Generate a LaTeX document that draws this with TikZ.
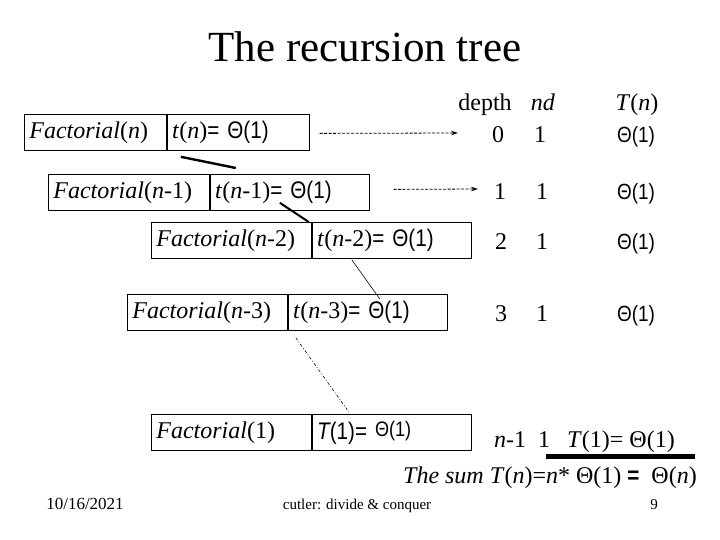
\documentclass[tikz,border=0pt]{standalone}
\usepackage{fontspec}
\setmainfont{Liberation Serif}
\newfontfamily\arial[FakeStretch=0.86]{Liberation Sans}
\usetikzlibrary{calc,arrows.meta}
\begin{document}
\begin{tikzpicture}[x=1pt,y=-1pt,
  cell/.style={draw,line width=0.8pt,inner xsep=5pt,inner ysep=0pt,minimum height=36pt,
    anchor=north west,align=left,font=\fontsize{24}{28}\selectfont},
  lbl/.style={font=\fontsize{24}{28}\selectfont,inner sep=0pt,anchor=base},
  thc/.style={lbl,font=\arial\fontsize{22}{26}\selectfont},
  foot/.style={font=\fontsize{15}{18}\selectfont,inner sep=0pt,anchor=base},
  darr/.style={-{Stealth[length=7pt,width=4.5pt]},dash pattern=on 3pt off 1.5pt,line width=0.8pt}]
\useasboundingbox (0,0) rectangle (720,540);
\node[font=\fontsize{43}{48}\selectfont,inner sep=0pt,anchor=base] (title) at (365,62) {The recursion tree};
% boxes
\node[cell,text width=132pt] (f0) at (24,114) {\textit{Factorial}(\textit{n})};
\node[cell,text width=132pt] (t0) at (f0.north east) {\textit{t}(\textit{n}){\arial= Θ(1)}};
\node[cell,text width=151pt] (f1) at (48,174) {\textit{Factorial}(\textit{n}-1)};
\node[cell,text width=149pt] (t1) at (f1.north east) {\textit{t}(\textit{n}-1){\arial= Θ(1)}};
\node[cell,text width=150pt] (f2) at (151,222) {\textit{Factorial}(\textit{n}-2)};
\node[cell,text width=149pt] (t2) at (f2.north east) {\textit{t}(\textit{n}-2){\arial= Θ(1)}};
\node[cell,text width=150pt] (f3) at (127,294) {\textit{Factorial}(\textit{n}-3)};
\node[cell,text width=149pt] (t3) at (f3.north east) {\textit{t}(\textit{n}-3){\arial= Θ(1)}};
\node[cell,text width=150pt] (f4) at (151,414) {\textit{Factorial}(1)};
\node[cell,text width=149pt] (t4) at (f4.north east) {{\arial\itshape T}{\arial(1)= \raisebox{3pt}{\fontsize{21}{24}\selectfont Θ(1)}}};
% tree links
\draw[line width=2.4pt] ($(f0.south east)+(14,6)$) -- ($(t1.north west)+(26,-6)$);
\draw[line width=2pt] ($(t1.south west)+(70,-8)$) -- ($(f2.north east)+(-3,0)$);
\draw[line width=0.6pt] ($(t2.south west)+(40,1)$) -- ($(t3.north west)+(92,5)$);
\draw[line width=0.6pt,dash pattern=on 3pt off 2pt on 0.8pt off 2pt] ($(t3.south west)+(8,7)$) -- ($(t4.north west)+(37,-2)$);
% right column
\node[lbl] (hd) at (485,111) {depth};
\node[lbl] (hn) at (543,111) {\textit{nd}};
\node[lbl] (hT) at (637,111) {\textit{T}(\textit{n})};
\node[lbl] (d0) at (498,143) {0};
\node[lbl] (n0) at (540,143) {1};
\node[thc] (T0) at (636,143) {Θ(1)};
\node[lbl] (d1) at (500,200) {1};
\node[lbl] (n1) at (542,200) {1};
\node[thc] (T1) at (636,200) {Θ(1)};
\node[lbl] (d2) at (501,249) {2};
\node[lbl] (n2) at (542,249) {1};
\node[thc] (T2) at (636,249) {Θ(1)};
\node[lbl] (d3) at (501,321) {3};
\node[lbl] (n3) at (542,321) {1};
\node[thc] (T3) at (636,321) {Θ(1)};
% arrows
\coordinate (s0) at ($(t0.east)+(10,1)$);
\coordinate (e0) at (458,133);
\coordinate (s1) at ($(t1.east)+(24,-3)$);
\coordinate (e1) at (478,189);
\draw[darr] (s0) -- (e0);
\draw[darr] (s1) -- (e1);
% last row
\node[lbl,anchor=base west] (dl) at (494,447) {\textit{n}-1\ \ 1};
\node[lbl,anchor=base east] (Tl) at (675,447) {\textit{T}(1)= Θ(1)};
\coordinate (u0) at (546,456);
\coordinate (u1) at (695,456);
\draw[line width=5pt] (u0) -- (u1);
\node[lbl,anchor=base east] (sum) at (697,483) {\textit{The sum T}(\textit{n})=\textit{n}* Θ(1) {\arial\bfseries =}\ \ Θ(\textit{n})};
% footer
\node[foot,font=\fontsize{17}{20}\selectfont] (date) at (85,509) {10/16/2021};
\node[foot] (ft) at (357,509) {cutler: divide \& conquer};
\node[foot] (pg) at (654,509) {9};
\end{tikzpicture}
\end{document}
